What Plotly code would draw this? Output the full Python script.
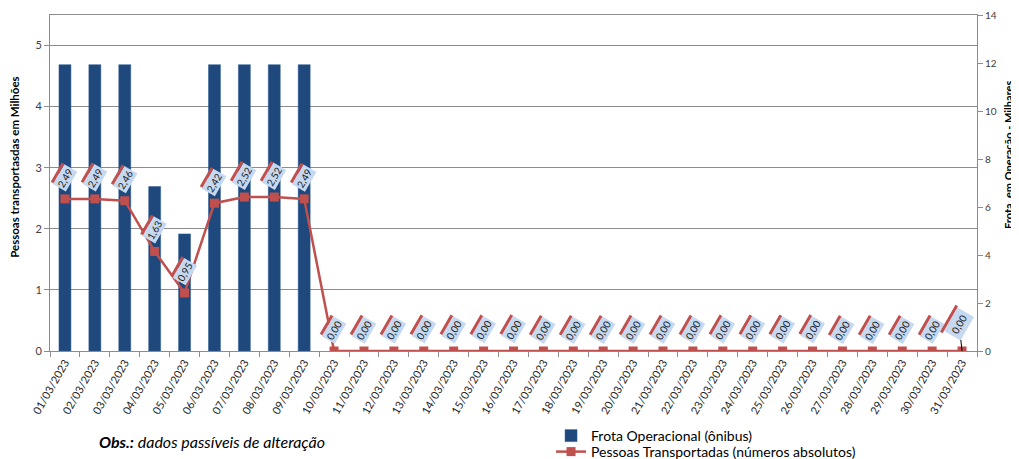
import plotly.graph_objects as go

dates = [f"{d:02d}/03/2023" for d in range(1, 32)]
frota = [11.93, 11.93, 11.93, 6.85, 4.88, 11.93, 11.93, 11.93, 11.93] + [None] * 22
pessoas = [2.49, 2.49, 2.46, 1.63, 0.95, 2.42, 2.52, 2.52, 2.49] + [0.0] * 22

BLUE = "#1F497D"
RED = "#C0504D"
GRID = "#8C8C8C"
FONT = "Lato"

fig = go.Figure()
fig.add_trace(go.Bar(x=dates, y=frota, name="Frota Operacional (ônibus)",
                     marker=dict(color=BLUE, line=dict(color="#2a5a94", width=0.5)),
                     yaxis="y", legend="legend"))
fig.add_trace(go.Scatter(x=dates, y=pessoas, name="Pessoas Transportadas (números absolutos)",
                         mode="lines+markers", yaxis="y2", legend="legend2",
                         line=dict(color=RED, width=2.5),
                         marker=dict(symbol="square", size=9, color=RED)))

anns = []
n = len(dates)
for i, (d, v) in enumerate(zip(dates, pessoas)):
    txt = f"{v:.2f}".replace(".", ",")
    last = (i == n - 1)
    if not last:
        anns.append(dict(x=d, y=v, xref="x", yref="y2", text=txt, showarrow=False,
                         textangle=-60, yshift=21, font=dict(family=FONT, size=10, color="#1a1a1a"),
                         bgcolor="#C6D9F1", borderpad=1))
        anns.append(dict(x=d, y=v, xref="x", yref="y2", text=" ", showarrow=False,
                         textangle=-60, xshift=-7.5, yshift=26, width=21, height=1.8,
                         font=dict(size=1), bgcolor=RED, borderpad=0))
    else:
        anns.append(dict(x=d, y=v, xref="x", yref="y2", text=txt, showarrow=True,
                         ax=-3, ay=-27, arrowhead=0, arrowwidth=1, arrowcolor="#000000",
                         textangle=-60, font=dict(family=FONT, size=10, color="#1a1a1a"),
                         bgcolor="#C6D9F1", borderpad=3))
        anns.append(dict(x=d, y=v, xref="x", yref="y2", text=" ", showarrow=False,
                         textangle=-60, xshift=-13, yshift=32, width=30, height=2,
                         font=dict(size=1), bgcolor=RED, borderpad=0))

anns.append(dict(xref="paper", yref="paper", x=-0.0378, y=0.548, xanchor="center",
                 yanchor="middle", showarrow=False,
                 text="<b>Pessoas transportasdas em Milhões</b>", textangle=-90,
                 font=dict(family=FONT, size=11.5, color="#000000")))
anns.append(dict(xref="paper", yref="paper", x=1.034, y=0.582, xanchor="center",
                 yanchor="middle", showarrow=False,
                 text="<b>Frota  em Operação - Milhares</b>", textangle=-90,
                 font=dict(family=FONT, size=11, color="#000000")))
anns.append(dict(xref="paper", yref="paper", x=0.0507, y=-0.268, xanchor="left", yanchor="middle",
                 showarrow=False,
                 text="<b><i>Obs.:</i></b><i> dados passíveis de alteração</i>",
                 font=dict(family=FONT, size=16, color="#000000")))

fig.update_layout(
    width=1011, height=451,
    margin=dict(l=42, r=42, t=7, b=108, autoexpand=False),
    paper_bgcolor="white", plot_bgcolor="white",
    font=dict(family=FONT),
    bargap=0.6,
    showlegend=True,
    legend=dict(x=0.5405, y=-0.253, xanchor="left", yanchor="middle",
                font=dict(family=FONT, size=14, color="#000000"),
                bgcolor="rgba(0,0,0,0)"),
    legend2=dict(x=0.5405, y=-0.3006, xanchor="left", yanchor="middle",
                 font=dict(family=FONT, size=14, color="#000000"),
                 bgcolor="rgba(0,0,0,0)"),
    xaxis=dict(type="category", range=[-0.5, 30.5], tickangle=-60, tickson="boundaries",
               ticks="outside", ticklen=5, tickcolor=GRID, showline=True, linecolor=GRID,
               mirror=True, showgrid=False,
               tickfont=dict(family=FONT, size=11, color="#262626")),
    yaxis=dict(side="right", range=[0, 14], tickvals=[0, 2, 4, 6, 8, 10, 12, 14],
               showgrid=False, ticks="outside", ticklen=5, tickcolor=GRID,
               showline=True, linecolor=GRID, zeroline=False,
               tickfont=dict(family=FONT, size=10, color="#404040")),
    yaxis2=dict(side="left", overlaying="y", range=[0, 5.5], tickvals=[0, 1, 2, 3, 4, 5],
                showgrid=True, gridcolor=GRID, gridwidth=1, ticks="outside", ticklen=5,
                tickcolor=GRID, showline=True, linecolor=GRID, zeroline=False,
                tickfont=dict(family=FONT, size=11, color="#404040")),
    annotations=anns,
)

fig.write_html("out.html")
